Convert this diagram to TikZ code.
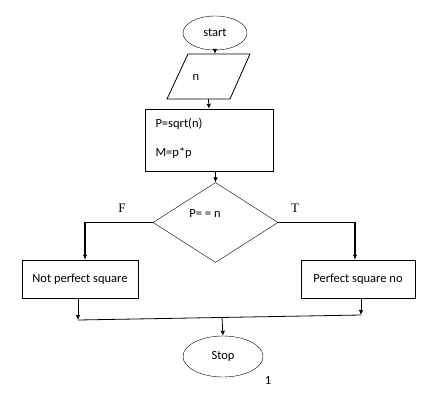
\documentclass[tikz,border=0pt]{standalone}
\usepackage{fontspec}
\setmainfont{Carlito}
\newfontfamily\serifTF{Liberation Serif}
\usetikzlibrary{shapes.geometric,arrows.meta}

\begin{document}
\begin{tikzpicture}[x=1pt, y=-1pt,
    every node/.style={font=\fontsize{12.5}{15}\selectfont},
    term/.style={draw, ellipse, inner sep=0pt},
    box/.style={draw, rectangle, inner sep=0pt},
    flow/.style={-{Latex[length=5pt,width=4.5pt]}, line width=0.8pt},
    branch/.style={flow, line width=1.3pt},
    tf/.style={font=\serifTF\fontsize{13}{15}\selectfont}]
    \useasboundingbox (0,0) rectangle (436,402);
    % terminals and steps
    \node[term, minimum width=64pt, minimum height=34pt] (start) at (215,33) {start};
    \draw[line width=0.8pt] (188,54) -- (250,54) -- (230,99) -- (167,99) -- cycle;
    \node[inner sep=0pt, minimum width=62pt, minimum height=45pt] (input) at (208.5,76.5) {};
    \node (nval) at (196,77) {n};
    \node[box, minimum width=128pt, minimum height=62pt] (calc) at (209,140) {};
    \node[anchor=west] (psq) at (152,124) {P=sqrt(n)};
    \node[anchor=west] (mval) at (152,153) {M=p*p};
    \node[draw, diamond, minimum width=125pt, minimum height=80pt, inner sep=0pt] (test) at (215.5,222.5) {};
    \node (cond) at (205,213) {P= = n};
    \node[box, minimum width=116pt, minimum height=38pt] (notsq) at (80,279) {Not perfect square};
    \node[box, minimum width=114pt, minimum height=38pt] (issq) at (358,279) {Perfect square no};
    \node[term, minimum width=80pt, minimum height=41pt] (stop) at (223,356.5) {Stop};
    \node (page) at (268,380) {1};
    \node[tf] (flab) at (122,208) {F};
    \node[tf] (tlab) at (295,208) {T};
    % join points
    \coordinate (joinL) at (78,320);
    \coordinate (joinR) at (361,315);
    \coordinate (joinM) at (222,317.5);
    % connectors
    \draw[flow] (start.south) -- (start.south |- input.north);
    \draw[flow] (input.south) -- (calc.north);
    \draw[flow] (calc.south -| test.north) -- (test.north);
    \draw[branch] (test.west) -| ([xshift=5pt]notsq.north);
    \draw[branch] (test.east) -| ([xshift=-3pt]issq.north);
    \draw[flow] (notsq.south -| joinL) -- (joinL);
    \draw[flow] (issq.south -| joinR) -- (joinR);
    \draw[line width=0.8pt] (joinL) -- (joinR);
    \draw[flow] (joinM) -- (stop.north);
\end{tikzpicture}
\end{document}
